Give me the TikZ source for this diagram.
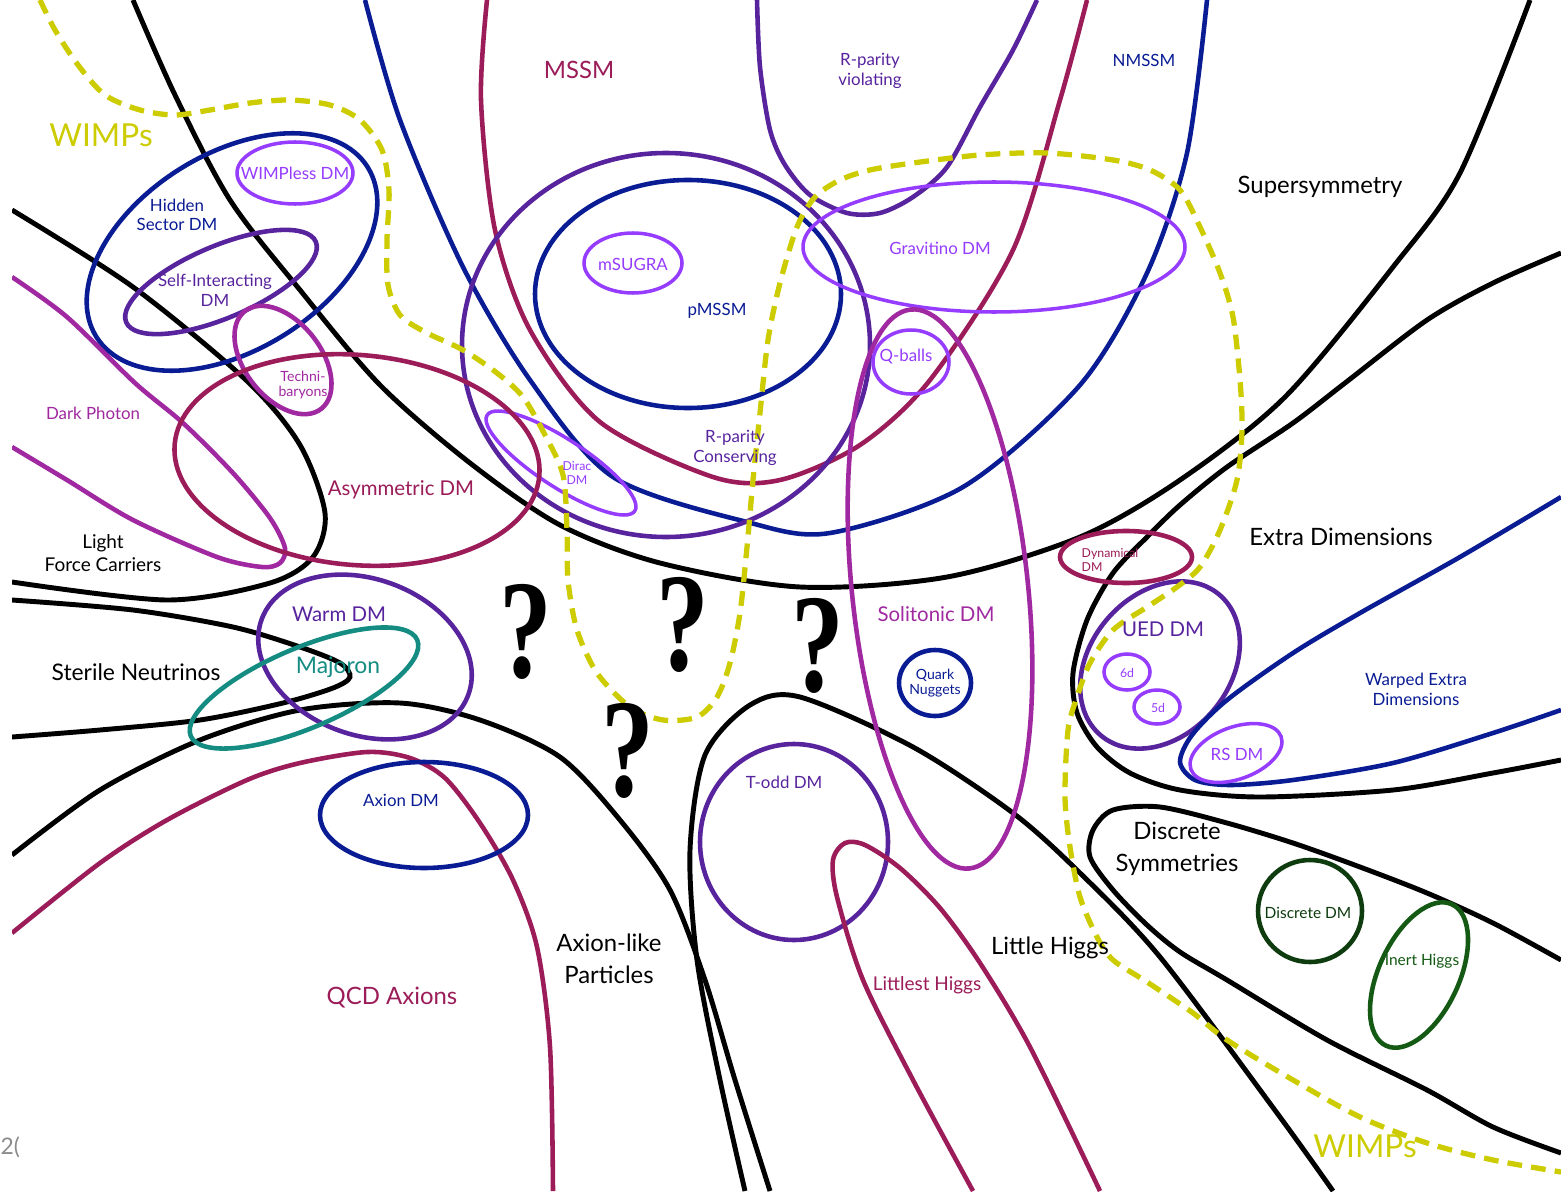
\documentclass[tikz,border=0pt]{standalone}
\usepackage{fontspec}
\setmainfont{Lato}
\newfontfamily\qfont{Liberation Serif}
\definecolor{wimpYellow}{RGB}{204,204,0}
\definecolor{mssmRed}{RGB}{155,28,88}
\definecolor{orchidPink}{RGB}{160,40,160}
\definecolor{rpPurple}{RGB}{88,36,158}
\definecolor{brightViolet}{RGB}{150,60,255}
\definecolor{navyBlue}{RGB}{10,28,148}
\definecolor{tealGreen}{RGB}{20,140,130}
\definecolor{darkGreen}{RGB}{15,60,15}
\definecolor{inertGreen}{RGB}{20,90,20}
\tikzset{
    famline/.style={line width=1.4pt, black},
    subline/.style={line width=1.3pt},
    thinline/.style={line width=1.0pt},
    wimpline/.style={line width=1.5pt, wimpYellow, dash pattern=on 4.2pt off 2.6pt},
    biglbl/.style={inner sep=0pt, align=center, font=\fontsize{6.8}{9}\selectfont},
    midlbl/.style={inner sep=0pt, align=center, font=\fontsize{5.8}{7}\selectfont},
    lbl/.style={inner sep=0pt, align=center, font=\fontsize{4.8}{5.6}\selectfont},
    tinylbl/.style={inner sep=0pt, align=center, font=\fontsize{3.5}{4}\selectfont},
    qmark/.style={inner sep=0pt, font=\qfont\bfseries\fontsize{40}{40}\selectfont, xscale=0.75, transform shape},
}

\begin{document}
\begin{tikzpicture}[x=0.01cm, y=-0.01cm]

\useasboundingbox (0,0) rectangle (1561,1191);
\fill[white] (0,0) rectangle (1561,1191);

\begin{scope}
\clip (12,0) rectangle (1561,1191);

% Big families (black)
\draw[famline] plot[smooth] coordinates {(133,0) (175,95) (230,200) (300,290) (380,385) (470,463) (560,525) (660,563) (800,587) (947,577) (1080,537) (1180,480) (1285,397) (1393,267) (1460,173) (1530,0)};
\draw[famline] plot[smooth] coordinates {(1561,253) (1493,283) (1427,320) (1345,383) (1293,423) (1227,467) (1180,505) (1147,537) (1113,573) (1087,620) (1073,673) (1077,713) (1097,747) (1130,773) (1180,790) (1260,797) (1393,790) (1493,773) (1561,760)};
\draw[famline] plot[smooth] coordinates {(12,210) (133,287) (247,381) (300,445) (325,513) (313,557) (270,583) (167,600) (12,582)};
\draw[famline] plot[smooth] coordinates {(12,600) (133,610) (233,627) (300,647) (340,663) (350,677) (333,688) (283,703) (200,720) (100,730) (12,737)};
\draw[famline] plot[smooth] coordinates {(12,855) (100,790) (200,740) (300,710) (400,703) (480,720) (560,757) (620,820) (670,890) (705,980) (735,1080) (770,1191)};
\draw[famline] plot[smooth] coordinates {(745,1191) (720,1080) (697,960) (690,850) (705,755) (750,705) (800,697) (913,747) (1013,813) (1080,873) (1160,957) (1277,1113) (1333,1191)};
\draw[famline] plot[smooth] coordinates {(1561,960) (1493,923) (1427,893) (1360,867) (1293,843) (1227,823) (1160,807) (1113,810) (1093,830) (1090,857) (1113,890) (1147,925) (1180,952) (1227,980) (1327,1040) (1427,1090) (1493,1127) (1561,1153)};

% Supersymmetry models
\draw[subline, navyBlue] plot[smooth] coordinates {(365,0) (400,120) (463,267) (530,380) (613,477) (747,522) (830,533) (963,487) (1080,385) (1147,273) (1187,153) (1207,0)};
\draw[subline, mssmRed] plot[smooth] coordinates {(487,0) (481,100) (495,230) (530,330) (600,422) (713,477) (780,480) (860,445) (930,380) (1013,250) (1060,100) (1087,0)};
\draw[subline, rpPurple] plot[smooth] coordinates {(757,0) (760,67) (770,130) (785,165) (810,195) (847,213) (880,213) (913,197) (947,167) (980,107) (1013,50) (1037,0)};
\draw[subline, rpPurple] (666,345) ellipse [x radius=204, y radius=192];
\draw[subline, navyBlue] (688,294) ellipse [x radius=153, y radius=114];
\draw[thinline, brightViolet] (633,263) ellipse [x radius=49, y radius=30];
\draw[thinline, brightViolet] (994,247) ellipse [x radius=191, y radius=65];
\draw[thinline, brightViolet] (911,362) ellipse [x radius=38, y radius=32];
\draw[thinline, brightViolet] (561,463) ellipse [x radius=88, y radius=24, rotate=-33];

% Hidden sector corner
\draw[subline, navyBlue] (232,252) ellipse [x radius=160, y radius=98, rotate=32];
\draw[thinline, brightViolet] (295,173) ellipse [x radius=58, y radius=31];
\draw[subline, rpPurple] (221,282) ellipse [x radius=103, y radius=36, rotate=23];
\draw[subline, orchidPink] (283,360) ellipse [x radius=62, y radius=38, rotate=-52];
\draw[subline, orchidPink] plot[smooth] coordinates {(12,277) (67,317) (135,383) (183,423) (233,473) (270,518) (285,548) (280,563) (262,567) (217,557) (133,520) (67,480) (12,447)};
\draw[subline, mssmRed] (357,460) ellipse [x radius=183, y radius=105, rotate=-5];

% Light states
\draw[subline, rpPurple] (365,657) ellipse [x radius=110, y radius=78, rotate=-20];
\draw[subline, tealGreen] (304,688) ellipse [x radius=123, y radius=40, rotate=23];
\draw[subline, mssmRed] plot[smooth] coordinates {(12,933) (100,863) (167,820) (247,780) (300,763) (367,752) (410,758) (445,778) (480,823) (513,880) (537,947) (550,1047) (553,1191)};
\draw[subline, navyBlue] (424,815) ellipse [x radius=104, y radius=53];

% Little Higgs and solitons
\draw[subline, rpPurple] (794,842) ellipse [x radius=94, y radius=98];
\draw[subline, mssmRed] plot[smooth] coordinates {(973,1191) (913,1080) (863,980) (837,897) (833,860) (845,843) (865,845) (900,868) (940,908) (980,963) (1030,1047) (1100,1191)};
\draw[subline, orchidPink] (940,589) ellipse [x radius=88, y radius=281, rotate=6];
\draw[subline, navyBlue] (935,683) ellipse [x radius=36, y radius=33];

% Extra dimensions
\draw[subline, mssmRed] (1126,557) ellipse [x radius=66, y radius=26];
\draw[subline, rpPurple] (1160,665) ellipse [x radius=92, y radius=70, rotate=50];
\draw[thinline, brightViolet] (1127,672) ellipse [x radius=23, y radius=18];
\draw[thinline, brightViolet] (1157,707) ellipse [x radius=23, y radius=17];
\draw[subline, navyBlue] plot[smooth] coordinates {(1561,497) (1460,557) (1360,613) (1293,653) (1227,700) (1192,735) (1180,762) (1195,780) (1230,785) (1293,780) (1393,763) (1493,733) (1561,710)};
\draw[thinline, brightViolet] (1236,753) ellipse [x radius=48, y radius=26, rotate=20];

% Discrete symmetries
\draw[subline, darkGreen] (1310,911) ellipse [x radius=52, y radius=51];
\draw[subline, inertGreen] (1419,975) ellipse [x radius=78, y radius=40, rotate=65];

% WIMPs
\draw[wimpline] plot[smooth] coordinates {(40,0) (55,30) (78,65) (105,95) (140,110) (175,115) (210,110) (250,103) (290,100) (330,105) (360,120) (382,150) (389,190) (387,240) (388,285) (400,315) (425,332) (463,350) (497,373) (523,397) (545,435) (563,475) (567,530) (568,580) (577,630) (597,673) (630,707) (663,720) (697,717) (717,697) (730,663) (740,613) (747,547) (753,480) (760,413) (768,340) (780,283) (797,227) (815,197) (840,180) (870,170) (913,163) (980,155) (1047,153) (1113,160) (1150,170) (1180,190) (1200,227) (1220,273) (1233,317) (1240,380) (1242,430) (1237,480) (1220,530) (1200,567) (1177,587) (1147,607) (1113,630) (1090,663) (1077,697) (1068,730) (1065,797) (1070,847) (1080,897) (1097,937) (1113,960) (1147,982) (1193,1013) (1227,1040) (1293,1080) (1360,1117) (1427,1143) (1493,1160) (1561,1172)};
\end{scope}

% Labels
\node[biglbl, text=wimpYellow, font=\fontsize{9}{9}\selectfont] (wimpsTop) at (101,135) {WIMPs};
\node[biglbl, text=wimpYellow, font=\fontsize{9}{9}\selectfont] (wimpsBot) at (1365,1146) {WIMPs};
\node[biglbl, text=mssmRed] (mssm) at (579,70) {MSSM};
\node[lbl, text=rpPurple] (rpv) at (870,71) {R-parity\\violating};
\node[lbl, text=navyBlue] (nmssm) at (1144,60) {NMSSM};
\node[biglbl] (susy) at (1320,187) {Supersymmetry};
\node[lbl, text=brightViolet] (wimpless) at (295,173) {WIMPless DM};
\node[lbl, text=navyBlue] (hidden) at (177,215) {Hidden\\Sector DM};
\node[lbl, text=rpPurple] (sidm) at (215,290) {Self-Interacting\\DM};
\node[lbl, text=orchidPink, font=\fontsize{4}{4.3}\selectfont] (techni) at (303,385) {Techni-\\baryons};
\node[lbl, text=brightViolet] (msugra) at (633,264) {mSUGRA};
\node[lbl, text=navyBlue] (pmssm) at (717,311) {pMSSM};
\node[lbl, text=brightViolet] (gravitino) at (940,248) {Gravitino DM};
\node[lbl, text=brightViolet] (qballs) at (906,357) {Q-balls};
\node[lbl, text=rpPurple] (rpc) at (735,448) {R-parity\\Conserving};
\node[tinylbl, text=brightViolet] (dirac) at (577,473) {Dirac\\DM};
\node[lbl, text=orchidPink] (darkphoton) at (93,413) {Dark Photon};
\node[midlbl, text=mssmRed] (adm) at (401,490) {Asymmetric DM};
\node[lbl, font=\fontsize{5.4}{6.3}\selectfont] (lfc) at (103,553) {Light\\Force Carriers};
\node[biglbl, font=\fontsize{6.5}{7}\selectfont] (sterile) at (136,672) {Sterile Neutrinos};
\node[midlbl, text=rpPurple] (warm) at (339,614) {Warm DM};
\node[biglbl, text=tealGreen, font=\fontsize{6.5}{7}\selectfont] (majoron) at (338,667) {Majoron};
\node[lbl, text=navyBlue] (axiondm) at (401,800) {Axion DM};
\node[biglbl, text=mssmRed] (qcd) at (392,998) {QCD Axions};
\node[biglbl] (alp) at (609,959) {Axion-like\\Particles};
\node[lbl, text=rpPurple] (todd) at (784,782) {T-odd DM};
\node[midlbl, text=mssmRed, font=\fontsize{5.4}{6}\selectfont] (littlest) at (927,985) {Littlest Higgs};
\node[biglbl] (littlehiggs) at (1050,948) {Little Higgs};
\node[midlbl, text=orchidPink] (solitonic) at (936,614) {Solitonic DM};
\node[lbl, text=navyBlue, font=\fontsize{4}{4.3}\selectfont] (nuggets) at (935,683) {Quark\\Nuggets};
\node[tinylbl, text=mssmRed, align=left] (dynamical) at (1110,560) {Dynamical\\DM};
\node[biglbl] (extradim) at (1341,537) {Extra Dimensions};
\node[midlbl, text=rpPurple] (ued) at (1163,629) {UED DM};
\node[tinylbl, text=brightViolet] (sixd) at (1127,673) {6d};
\node[tinylbl, text=brightViolet] (fived) at (1158,708) {5d};
\node[lbl, text=navyBlue] (warped) at (1416,689) {Warped Extra\\Dimensions};
\node[lbl, text=brightViolet] (rsdm) at (1237,754) {RS DM};
\node[biglbl] (discrete) at (1177,849) {Discrete\\Symmetries};
\node[lbl, text=darkGreen, font=\fontsize{4.4}{5}\selectfont] (discretedm) at (1308,913) {Discrete DM};
\node[lbl, text=inertGreen, font=\fontsize{4.4}{5}\selectfont] (inert) at (1422,961) {Inert Higgs};

% Open questions
\foreach \p [count=\i] in {(526,632),(683,625),(818,646),(628,751)}
    \node[qmark] (q\i) at \p {?};

\node[lbl, text=black!45, font=\fontsize{6.5}{7}\selectfont, anchor=west] (credit) at (0,1147) {2(};

\end{tikzpicture}
\end{document}
